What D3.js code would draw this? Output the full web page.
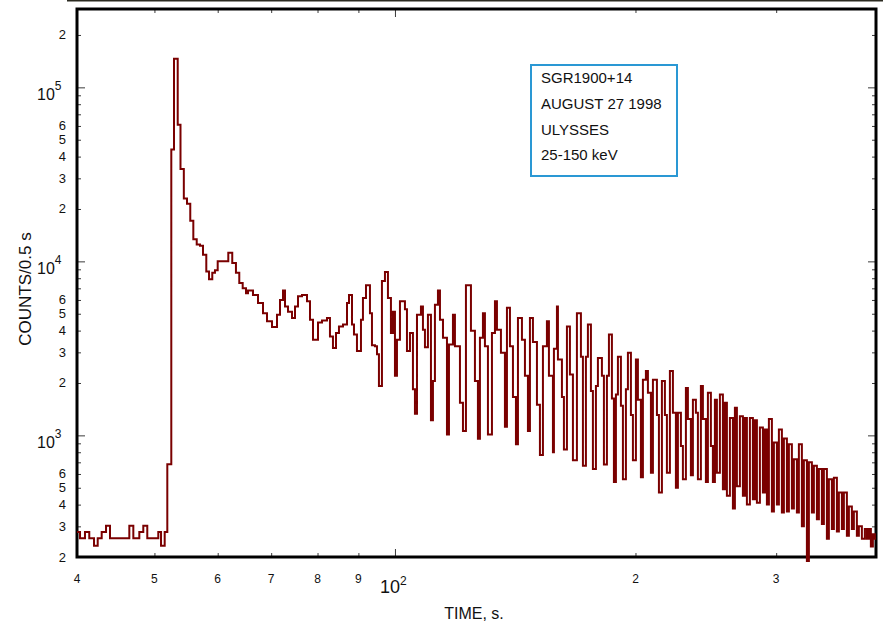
<!DOCTYPE html>
<html>
<head>
<meta charset="utf-8">
<script src="https://cdn.jsdelivr.net/npm/d3@7"></script>
<style>
  html, body { margin: 0; padding: 0; background: #fff; }
  svg { display: block; font-family: "Liberation Sans", Arial, Helvetica, sans-serif; }
</style>
</head>
<body>
<svg id="chart" width="883" height="624"></svg>
<script>
// SGR 1900+14 giant flare, Ulysses GRB detector, 25-150 keV.
// Step light curve: left edge of each step (s) and counts per 0.5 s.
const stepTime = [
  40.00, 40.35, 40.93, 41.44, 42.01, 42.46, 42.95, 43.49, 43.99, 46.51,
  47.05, 47.87, 48.42, 48.98, 50.56, 50.96, 51.50, 51.89, 52.49, 52.90,
  53.47, 53.90, 54.42, 54.92, 55.44, 55.93, 56.48, 57.02, 57.51, 58.06,
  58.52, 59.07, 59.53, 60.00, 61.86, 62.57, 63.24, 63.85, 64.48, 65.10,
  65.47, 66.42, 67.39, 68.37, 69.16, 70.16, 71.18, 71.80, 72.42, 72.84,
  73.47, 74.33, 74.97, 75.62, 76.50, 77.61, 78.28, 78.96, 80.11, 81.04,
  82.21, 82.92, 83.64, 84.37, 85.10, 86.09, 87.09, 87.59, 88.35, 88.86,
  89.63, 90.67, 91.19, 91.99, 93.05, 93.59, 94.40, 94.95, 95.49, 96.32,
  97.16, 98.00, 98.85, 99.43, 100.00, 100.58, 101.45, 102.92, 103.52, 104.42,
  105.32, 105.93, 106.55, 107.78, 108.40, 109.03, 109.97, 110.93, 111.57, 112.21,
  113.19, 113.85, 114.84, 116.17, 116.84, 118.19, 118.87, 120.60, 121.65, 122.70,
  124.48, 125.92, 127.01, 127.75, 128.86, 129.60, 130.73, 132.25, 133.40, 134.17,
  135.72, 137.29, 138.09, 139.29, 140.50, 141.72, 142.54, 144.19, 145.44, 146.70,
  147.55, 148.83, 150.56, 151.86, 153.18, 154.95, 155.85, 157.66, 158.11, 159.49,
  159.95, 161.80, 162.73, 164.15, 165.57, 167.01, 168.94, 170.90, 171.89, 173.38,
  174.38, 175.90, 176.91, 178.45, 179.48, 181.56, 182.61, 184.20, 185.27, 186.87,
  187.95, 189.04, 190.13, 191.78, 192.89, 194.56, 195.69, 197.39, 198.53, 200.25,
  201.41, 203.15, 204.33, 206.10, 207.30, 209.10, 210.31, 212.75, 213.98, 215.83,
  217.70, 218.96, 220.86, 222.78, 224.71, 226.01, 227.98, 229.29, 231.28, 232.62,
  234.63, 235.99, 238.04, 239.42, 241.49, 242.89, 245.00, 246.42, 248.55, 249.99,
  251.44, 252.89, 255.09, 257.30, 258.79, 260.29, 262.55, 264.83, 266.36, 267.90,
  270.22, 272.57, 274.14, 275.73, 278.12, 280.53, 282.15, 283.79, 286.25, 288.73,
  290.40, 292.09, 293.77, 296.32, 298.04, 300.62, 302.36, 304.98, 306.75, 309.41,
  311.20, 313.89, 315.71, 318.45, 320.29, 323.07, 324.94, 327.77, 329.66, 332.52,
  334.44, 337.35, 339.30, 342.24, 344.21, 347.21, 349.21, 352.24, 354.28, 357.36,
  359.42, 362.54, 364.64, 367.81, 369.94, 373.13, 375.29, 378.55, 380.73, 384.05,
  387.34, 389.62, 391.87, 394.13, 396.41, 398.70
];
const stepCounts = [
  278, 256, 278, 256, 232, 256, 278, 302, 256, 302,
  256, 278, 302, 256, 278, 232, 278, 682, 44000, 146000,
  61000, 34000, 23000, 21400, 17100, 13400, 12500, 12300, 10900, 8740,
  7880, 8600, 8900, 10000, 11200, 9800, 8600, 7500, 7000, 6550,
  6800, 6400, 5770, 5040, 4530, 4200, 4930, 6000, 6800, 5500,
  5140, 4720, 5500, 6300, 6400, 5900, 4620, 3550, 4450, 4570,
  4720, 3700, 3180, 3870, 4230, 4330, 5770, 6400, 4330, 3800,
  3050, 4620, 6150, 7300, 5040, 3300, 3250, 2930, 1920, 7700,
  8700, 6150, 3870, 5140, 2200, 3550, 5900, 5300, 3050, 3870,
  1840, 1330, 4930, 5500, 4040, 3210, 4930, 1220, 2050, 5630,
  6800, 4620, 3640, 1010, 3330, 4930, 3250, 1540, 1060, 7300,
  3990, 2050, 955, 3640, 5040, 3250, 1010, 3870, 5900, 4040,
  2980, 1120, 5420, 3250, 1660, 890, 4720, 3550, 2200, 1060,
  4720, 3440, 1500, 770, 3250, 4530, 2200, 800, 3150, 5500,
  2730, 1660, 830, 4230, 2240, 720, 5040, 2830, 670, 2830,
  4330, 1800, 640, 1920, 2780, 2200, 680, 2200, 3800, 1630,
  540, 1720, 2830, 1480, 560, 1840, 2980, 1310, 720, 2730,
  1600, 575, 2090, 2340, 1760, 610, 2090, 1310, 470, 2050,
  1310, 610, 2340, 1350, 500, 1350, 870, 560, 1870, 1240,
  590, 1600, 1350, 560, 1920, 1240, 540, 1760, 870, 540,
  1600, 610, 1720, 490, 1540, 450, 1260, 380, 1440, 510,
  1290, 450, 1260, 400, 1260, 430, 1220, 410, 1110, 470,
  1080, 400, 1240, 365, 910, 400, 1080, 360, 960, 365,
  890, 380, 730, 360, 890, 300, 720, 190, 700, 360,
  670, 330, 640, 310, 640, 255, 560, 290, 570, 280,
  470, 290, 470, 265, 390, 290, 365, 265, 300, 255,
  290, 255, 290, 230, 270, 255
];
const endTime = 400;

// Axis extents and ticks
const xDomain = [40, 400];
const yDomain = [200, 282000];
const xMinorTicks = [40, 50, 60, 70, 80, 90, 200, 300];
const xMinorLabels = ["4", "5", "6", "7", "8", "9", "2", "3"];
const xMajorTicks = [100];
const xMajorExponents = ["2"];
const yMajorTicks = [1e3, 1e4, 1e5];
const yMajorExponents = ["3", "4", "5"];
const yMinorTicks = [
  200, 300, 400, 500, 600, 700, 800, 900,
  2000, 3000, 4000, 5000, 6000, 7000, 8000, 9000,
  20000, 30000, 40000, 50000, 60000, 70000, 80000, 90000,
  200000
];
const yMinorLabels = [
  "2", "3", "4", "5", "6", "", "", "",
  "2", "3", "4", "5", "6", "", "", "",
  "2", "3", "4", "5", "6", "", "", "",
  "2"
];
const legendLines = ["SGR1900+14", "AUGUST 27 1998", "ULYSSES", "25-150 keV"];
const xTitle = "TIME, s.";
const yTitle = "COUNTS/0.5 s";

// Layout
const L = 77, R = 876, T = 9, B = 557;
const svg = d3.select("#chart");
const x = d3.scaleLog().domain(xDomain).range([L, R]);
const y = d3.scaleLog().domain(yDomain).range([B, T]);

// thin rule along the very top of the page
svg.append("line")
  .attr("x1", 67).attr("x2", 883).attr("y1", 0.5).attr("y2", 0.5)
  .attr("stroke", "#2b2a20").attr("stroke-width", 2);

// tick marks on all four sides, pointing inward
function tickMarks(axis, values, len, transform) {
  svg.append("g")
    .attr("transform", transform)
    .call(axis.tickValues(values).tickSize(-len).tickFormat(""))
    .call(g => g.select(".domain").remove())
    .call(g => g.selectAll(".tick line").attr("stroke", "#3a3a3a").attr("stroke-width", 1));
}
tickMarks(d3.axisBottom(x), xMinorTicks, 4, `translate(0,${B})`);
tickMarks(d3.axisBottom(x), xMajorTicks, 8, `translate(0,${B})`);
tickMarks(d3.axisTop(x), xMinorTicks, 4, `translate(0,${T})`);
tickMarks(d3.axisTop(x), xMajorTicks, 8, `translate(0,${T})`);
tickMarks(d3.axisLeft(y), yMinorTicks, 4, `translate(${L},0)`);
tickMarks(d3.axisLeft(y), yMajorTicks, 8, `translate(${L},0)`);
tickMarks(d3.axisRight(y), yMinorTicks, 4, `translate(${R},0)`);
tickMarks(d3.axisRight(y), yMajorTicks, 8, `translate(${R},0)`);

// frame
svg.append("rect")
  .attr("x", L).attr("y", T).attr("width", R - L).attr("height", B - T)
  .attr("fill", "none").attr("stroke", "#000").attr("stroke-width", 3);

// x tick labels
svg.append("g").selectAll("text")
  .data(xMinorTicks)
  .join("text")
  .attr("x", d => x(d))
  .attr("y", B + 26)
  .attr("text-anchor", "middle")
  .attr("font-size", 12)
  .attr("fill", "#111")
  .text((d, i) => xMinorLabels[i]);

const xMaj = svg.append("g").selectAll("text")
  .data(xMajorTicks)
  .join("text")
  .attr("x", d => x(d) - 15)
  .attr("y", B + 36)
  .attr("fill", "#111");
xMaj.append("tspan").attr("font-size", 18).text("10");
xMaj.append("tspan").attr("font-size", 12).attr("dy", -8).text((d, i) => xMajorExponents[i]);

// y tick labels
svg.append("g").selectAll("text")
  .data(yMinorTicks)
  .join("text")
  .attr("x", L - 11)
  .attr("y", d => y(d) + 4.5)
  .attr("text-anchor", "end")
  .attr("font-size", 13)
  .attr("fill", "#111")
  .text((d, i) => yMinorLabels[i]);

const yMaj = svg.append("g").selectAll("text")
  .data(yMajorTicks)
  .join("text")
  .attr("x", L - 40)
  .attr("y", d => y(d) + 13)
  .attr("fill", "#111");
yMaj.append("tspan").attr("font-size", 16).text("10");
yMaj.append("tspan").attr("font-size", 12).attr("dy", -10).text((d, i) => yMajorExponents[i]);

// axis titles
svg.append("text")
  .attr("x", 474).attr("y", 619)
  .attr("text-anchor", "middle")
  .attr("font-size", 16)
  .attr("fill", "#111")
  .text(xTitle);

svg.append("text")
  .attr("transform", "translate(31,289) rotate(-90)")
  .attr("text-anchor", "middle")
  .attr("font-size", 17)
  .attr("fill", "#111")
  .text(yTitle);

// light curve as a step histogram
const pts = stepTime.map((t, i) => [t, stepCounts[i]]);
pts.push([endTime, stepCounts[stepCounts.length - 1]]);
const line = d3.line()
  .x(d => x(d[0]))
  .y(d => y(d[1]))
  .curve(d3.curveStepAfter);
svg.append("path")
  .datum(pts)
  .attr("d", line)
  .attr("fill", "none")
  .attr("stroke", "#7a0000")
  .attr("stroke-width", 2)
  .attr("stroke-linejoin", "miter");

// legend box
const lg = svg.append("g");
lg.append("rect")
  .attr("x", 531).attr("y", 65).attr("width", 146).attr("height", 111)
  .attr("fill", "#fff").attr("stroke", "#2a98d4").attr("stroke-width", 2);
lg.selectAll("text")
  .data(legendLines)
  .join("text")
  .attr("x", 541)
  .attr("y", (d, i) => 83 + i * 25.8)
  .attr("font-size", 15)
  .attr("fill", "#111")
  .text(d => d);
</script>
</body>
</html>
